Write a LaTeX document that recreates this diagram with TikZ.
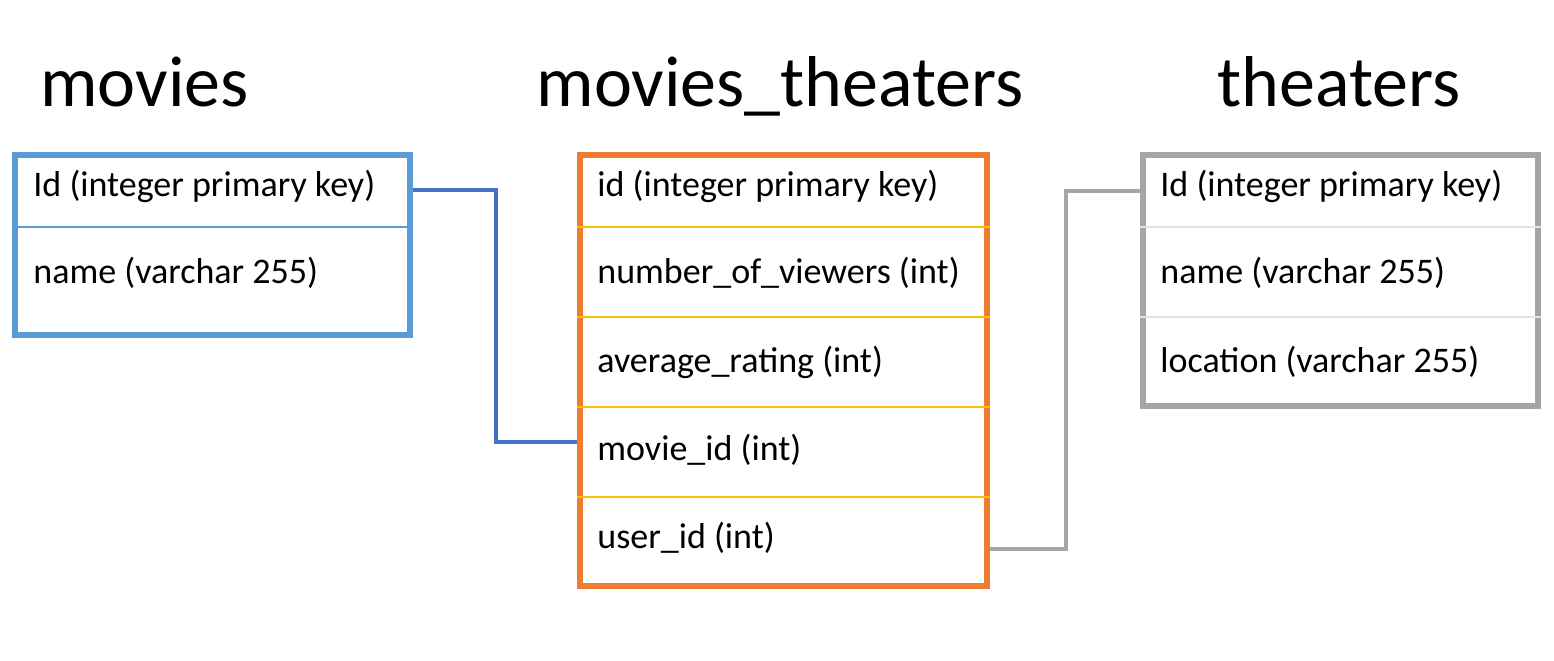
\documentclass[tikz,border=0pt]{standalone}
\usepackage{fontspec}
\setmainfont{Carlito}
\usepackage{tikz}
\usetikzlibrary{calc}
\usepackage{xcolor}
\definecolor{tblblue}{HTML}{5B9BD5}
\definecolor{lnkblue}{HTML}{4472C4}
\definecolor{tblorange}{HTML}{ED7D31}
\definecolor{rowyellow}{HTML}{FFC000}
\definecolor{tblgray}{HTML}{A5A5A5}
\definecolor{rowgray}{HTML}{E2E2E2}

\begin{document}
\begin{tikzpicture}[x=0.5pt, y=-0.5pt, table/.style={rectangle, draw, line width=3pt, inner sep=0pt}, title/.style={anchor=base, inner sep=0pt, font=\fontsize{36}{40}\selectfont}, field/.style={anchor=base west, inner sep=0pt, font=\fontsize{18}{22}\selectfont}, link/.style={line width=1.75pt}, divider/.style={line width=0.9pt}]
\useasboundingbox (0,0) rectangle (1554,660);
\node[title] (t1) at (144.5,106) {movies};
\node[title] (t2) at (780,106) {movies\_theaters};
\node[title] (t3) at (1339,106) {theaters};
\node[table, draw=tblblue, minimum width=197.5pt, minimum height=90pt] (movies) at (212.5,245) {};
\node[table, draw=tblorange, minimum width=203.5pt, minimum height=215.5pt] (mt) at (783.5,370.5) {};
\node[table, draw=tblgray, minimum width=197.5pt, minimum height=125.5pt] (theaters) at (1340.5,280.5) {};
\draw[divider, tblblue] (movies.west |- 0,227) -- (movies.east |- 0,227);
\foreach \y in {227,317,407,497}
  \draw[divider, rowyellow] (mt.west |- 0,\y) -- (mt.east |- 0,\y);
\foreach \y in {227,317}
  \draw[divider, rowgray] (theaters.west |- 0,\y) -- (theaters.east |- 0,\y);
\node[field] (m1) at (33,196) {Id (integer primary key)};
\node[field] (m2) at (33,283) {name (varchar 255)};
\node[field] (mt1) at (597,196) {id (integer primary key)};
\node[field] (mt2) at (597,283) {number\_of\_viewers (int)};
\node[field] (mt3) at (597,372) {average\_rating (int)};
\node[field] (mt4) at (597,460) {movie\_id (int)};
\node[field] (mt5) at (597,548) {user\_id (int)};
\node[field] (th1) at (1160,196) {Id (integer primary key)};
\node[field] (th2) at (1160,283) {name (varchar 255)};
\node[field] (th3) at (1160,372) {location (varchar 255)};
\draw[link, lnkblue] ($(movies.east |- m1.base)+(0,-6)$) -- ++(83,0) |- ($(mt.west |- mt4.base)+(0,-18)$);
\draw[link, tblgray] ($(mt.east |- mt5.base)+(0,1)$) -- ++(76,0) |- ($(theaters.west |- th1.base)+(0,-5)$);
\end{tikzpicture}
\end{document}
